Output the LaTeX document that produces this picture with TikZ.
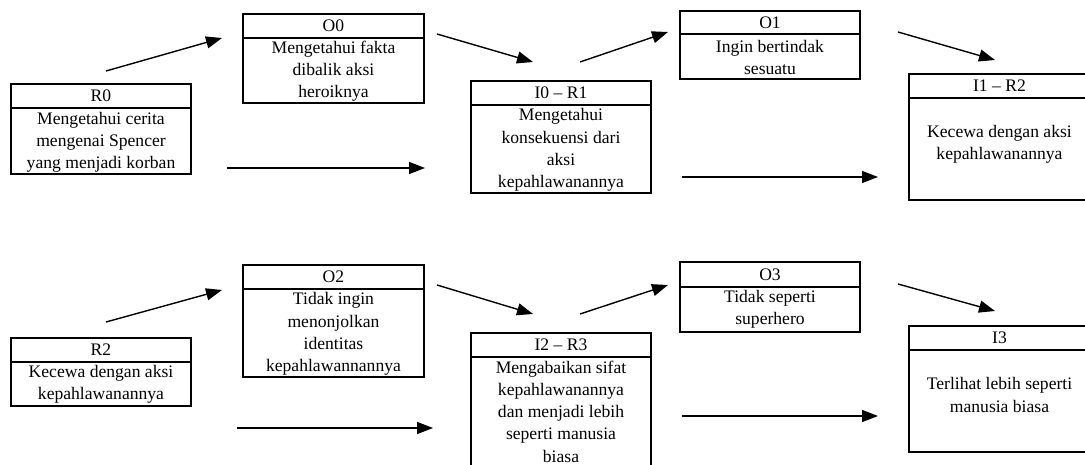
\documentclass[tikz,border=0pt]{standalone}
\usepackage{fontspec}
\setmainfont{Liberation Serif}
\usetikzlibrary{arrows.meta}
\begin{document}
\begin{tikzpicture}[x=1pt,y=-1pt,
  box/.style={draw=black,line width=1.3pt,rectangle,inner sep=0pt,outer sep=0pt,anchor=north west},
  hline/.style={draw=black,line width=1.1pt},
  txt/.style={font=\fontsize{17.6}{22.2}\selectfont,align=center,inner sep=0pt,text=black},
  conn/.style={draw=black,line width=1.4pt,-{Triangle[length=16pt,width=12pt]}}]
\useasboundingbox (0,0) rectangle (1085,465);
% ---------- top row ----------
\node[box,minimum width=180pt,minimum height=90pt] (R0) at (11,84) {};
\draw[hline] ([yshift=-24pt]R0.north west) -- ([yshift=-24pt]R0.north east);
\node[txt] (R0h) at (101,96) {R0};
\node[txt] (R0b) at (101,142.5) {Mengetahui cerita\\mengenai Spencer\\yang menjadi korban};

\node[box,minimum width=181pt,minimum height=89pt] (O0) at (243,14) {};
\draw[hline] ([yshift=-24pt]O0.north west) -- ([yshift=-24pt]O0.north east);
\node[txt] (O0h) at (333.5,26) {O0};
\node[txt] (O0b) at (333.5,71) {Mengetahui fakta\\dibalik aksi\\heroiknya};

\node[box,minimum width=180pt,minimum height=112pt] (I0R1) at (471,81) {};
\draw[hline] ([yshift=-24pt]I0R1.north west) -- ([yshift=-24pt]I0R1.north east);
\node[txt] (I0R1h) at (561,93) {I0 – R1};
\node[txt] (I0R1b) at (561,150) {Mengetahui\\konsekuensi dari\\aksi\\kepahlawanannya};

\node[box,minimum width=180pt,minimum height=68pt] (O1) at (680,11) {};
\draw[hline] ([yshift=-23pt]O1.north west) -- ([yshift=-23pt]O1.north east);
\node[txt] (O1h) at (770,22.5) {O1};
\node[txt] (O1b) at (770,57.5) {Ingin bertindak\\sesuatu};

\node[box,minimum width=200pt,minimum height=126pt] (I1R2) at (909,74) {};
\draw[hline] ([yshift=-24pt]I1R2.north west) -- ([yshift=-24pt]I1R2.north east);
\node[txt] (I1R2h) at (999.5,86) {I1 – R2};
\node[txt] (I1R2b) at (999.5,144) {Kecewa dengan aksi\\kepahlawanannya};

% ---------- bottom row ----------
\node[box,minimum width=180pt,minimum height=68pt] (R2) at (11,338) {};
\draw[hline] ([yshift=-24pt]R2.north west) -- ([yshift=-24pt]R2.north east);
\node[txt] (R2h) at (101,350) {R2};
\node[txt] (R2b) at (101,384) {Kecewa dengan aksi\\kepahlawanannya};

\node[box,minimum width=181pt,minimum height=112pt] (O2) at (243,265) {};
\draw[hline] ([yshift=-24pt]O2.north west) -- ([yshift=-24pt]O2.north east);
\node[txt] (O2h) at (333.5,277) {O2};
\node[txt] (O2b) at (333.5,334) {Tidak ingin\\menonjolkan\\identitas\\kepahlawannannya};

\node[box,minimum width=180pt,minimum height=140pt] (I2R3) at (471,333) {};
\draw[hline] ([yshift=-24pt]I2R3.north west) -- ([yshift=-24pt]I2R3.north east);
\node[txt] (I2R3h) at (561,345) {I2 – R3};
\node[txt] (I2R3b) at (561,411.5) {Mengabaikan sifat\\kepahlawanannya\\dan menjadi lebih\\seperti manusia\\biasa};

\node[box,minimum width=180pt,minimum height=70pt] (O3) at (680,262) {};
\draw[hline] ([yshift=-25pt]O3.north west) -- ([yshift=-25pt]O3.north east);
\draw[draw=black,line width=2.4pt] (O3.south west) -- (O3.south east);
\node[txt] (O3h) at (770,274.5) {O3};
\node[txt] (O3b) at (770,309) {Tidak seperti\\superhero};

\node[box,minimum width=200pt,minimum height=126pt] (I3) at (909,326) {};
\draw[hline] ([yshift=-24pt]I3.north west) -- ([yshift=-24pt]I3.north east);
\node[txt] (I3h) at (999.5,338) {I3};
\node[txt] (I3b) at (999.5,395) {Terlihat lebih seperti\\manusia biasa};

% ---------- connector end points ----------
\coordinate (a1s) at (106,71);  \coordinate (a1e) at (222,38);
\coordinate (a2s) at (227,168); \coordinate (a2e) at (425,168);
\coordinate (a3s) at (437,34);  \coordinate (a3e) at (533,62);
\coordinate (a4s) at (580,62);  \coordinate (a4e) at (668,32);
\coordinate (a5s) at (898,32);  \coordinate (a5e) at (995,60);
\coordinate (a6s) at (682,177); \coordinate (a6e) at (878,177);
\coordinate (b1s) at (106,322); \coordinate (b1e) at (222,290);
\coordinate (b2s) at (237,428); \coordinate (b2e) at (433,428);
\coordinate (b3s) at (437,285); \coordinate (b3e) at (533,314);
\coordinate (b4s) at (580,314); \coordinate (b4e) at (668,285);
\coordinate (b5s) at (898,284); \coordinate (b5e) at (995,311);
\coordinate (b6s) at (682,416); \coordinate (b6e) at (878,416);

\draw[conn] (a1s) -- (a1e);
\draw[conn] (a2s) -- (a2e);
\draw[conn] (a3s) -- (a3e);
\draw[conn] (a4s) -- (a4e);
\draw[conn] (a5s) -- (a5e);
\draw[conn] (a6s) -- (a6e);
\draw[conn] (b1s) -- (b1e);
\draw[conn] (b2s) -- (b2e);
\draw[conn] (b3s) -- (b3e);
\draw[conn] (b4s) -- (b4e);
\draw[conn] (b5s) -- (b5e);
\draw[conn] (b6s) -- (b6e);
\end{tikzpicture}
\end{document}
